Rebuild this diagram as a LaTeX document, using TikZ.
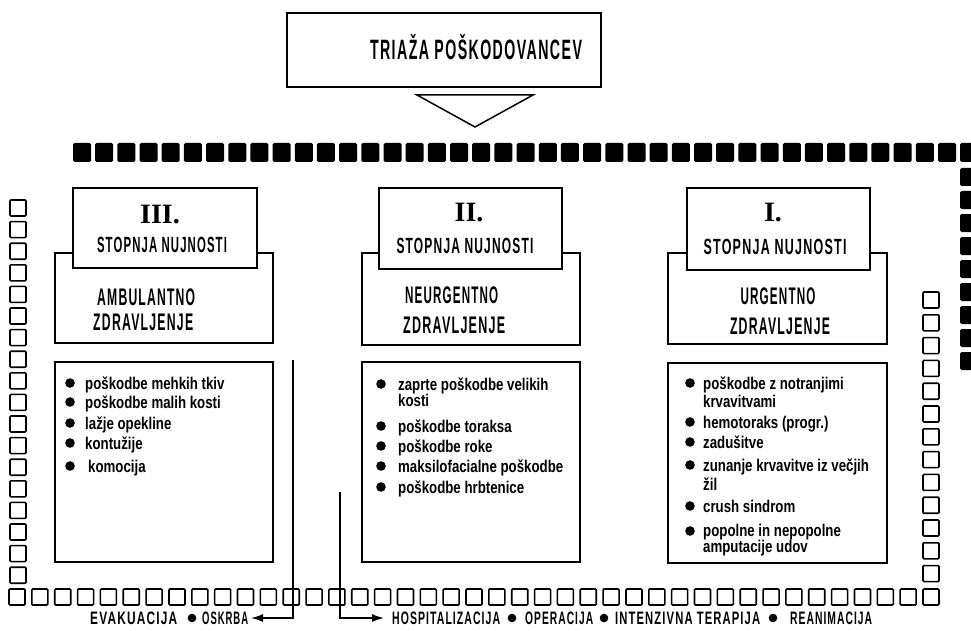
\documentclass[tikz,border=0pt]{standalone}
\usepackage{fontspec}
\usepackage{graphicx}
\setmainfont{Liberation Sans}
\newfontfamily\capf{Liberation Sans}[LetterSpace=10]
\newfontfamily\numf{Liberation Serif}
\newfontfamily\itemf{Liberation Sans}[FakeStretch=0.78]
\usetikzlibrary{arrows.meta}
\newcommand\capt[3]{\resizebox{#1pt}{\height}{\fontsize{#2}{#2}\selectfont\capf\bfseries #3}}
\newcommand\romn[2]{\fontsize{#1}{#1}\selectfont\numf\bfseries #2}
\newcommand\twol[3][0pt]{\def\arraystretch{0.8}\begin{tabular}[t]{@{}l@{}}#2\\[#1]#3\end{tabular}}
\tikzset{
  box/.style={draw, line width=1.6pt, fill=white, inner sep=0pt, outer sep=0pt},
  sqo/.style={draw, line width=1.6pt, rounded corners=1pt},
  sqf/.style={fill=black, rounded corners=1.5pt},
  lab/.style={inner sep=0pt, anchor=base},
  labw/.style={inner sep=0pt, anchor=base west},
  itm/.style={inner sep=0pt, anchor=base west, font=\itemf\bfseries\fontsize{17}{17}\selectfont},
  dot/.style={fill=black},
  conn/.style={line width=1.4pt},
}
\begin{document}
\begin{tikzpicture}[x=1pt, y=-1pt]
\useasboundingbox (0,0) rectangle (971,631);

% filled squares (top row and right column)
\foreach \i in {0,...,40} \fill[sqf] ({73+\i*22.18},143) rectangle ++(18,19);
\foreach \i in {0,...,8} \fill[sqf] (960,{168+\i*23}) rectangle ++(18,18);

% open squares
\foreach \i in {0,...,17} \draw[sqo] (10,{200+\i*21.6}) rectangle ++(16,16);
\foreach \i in {0,...,40} \draw[sqo] ({9+\i*22.85},589) rectangle ++(16,16);
\foreach \i in {0,...,12} \draw[sqo] (923,{292+\i*22.8}) rectangle ++(16,16);

% title box and triangle
\node[box, minimum width=314pt, minimum height=74pt] (title) at (444,50) {};
\node[lab] (titlet) at (476,60) {\capt{212}{28}{TRIAŽA POŠKODOVANCEV}};
\draw[line width=1.5pt, line join=miter] (417,95) -- (533,95) -- (475,127) -- cycle;

% column III
\node[box, minimum width=218pt, minimum height=90pt] (l3) at (164,298) {};
\node[box, minimum width=184pt, minimum height=80pt] (t3) at (165,228) {};
\node[box, minimum width=218pt, minimum height=200pt] (b3) at (164,462) {};
\node[lab] (n3) at (160,223) {\romn{28}{III.}};
\node[lab] (s3) at (162,252) {\capt{130}{22}{STOPNJA NUJNOSTI}};
\node[labw] (a3) at (97,305) {\capt{98}{24}{AMBULANTNO}};
\node[labw] (z3) at (93,330) {\capt{100}{24}{ZDRAVLJENJE}};

% column II
\node[box, minimum width=218pt, minimum height=92pt] (l2) at (471,299) {};
\node[box, minimum width=183pt, minimum height=81pt] (t2) at (470.5,228.5) {};
\node[box, minimum width=218pt, minimum height=200pt] (b2) at (471,462) {};
\node[lab] (n2) at (469,222) {\romn{28}{II.}};
\node[lab] (s2) at (465,253) {\capt{137}{22}{STOPNJA NUJNOSTI}};
\node[labw] (a2) at (405,303) {\capt{93}{24}{NEURGENTNO}};
\node[labw] (z2) at (403,333) {\capt{102}{24}{ZDRAVLJENJE}};

% column I
\node[box, minimum width=219pt, minimum height=91pt] (l1) at (777.5,298.5) {};
\node[box, minimum width=183pt, minimum height=82pt] (t1) at (778.5,229) {};
\node[box, minimum width=219pt, minimum height=200pt] (b1) at (777.5,463) {};
\node[lab] (n1) at (773,222) {\romn{28}{I.}};
\node[lab] (s1) at (775,254) {\capt{143}{22}{STOPNJA NUJNOSTI}};
\node[lab] (a1) at (778,304) {\capt{75}{24}{URGENTNO}};
\node[lab] (z1) at (780,334) {\capt{100}{24}{ZDRAVLJENJE}};

% items III
\foreach \y in {389,408,429,449,472} \fill[dot] (70,{\y-6}) circle (4.8);
\node[itm] (i31) at (85,389) {poškodbe mehkih tkiv};
\node[itm] (i32) at (85,408) {poškodbe malih kosti};
\node[itm] (i33) at (85,429) {lažje opekline};
\node[itm] (i34) at (85,449) {kontužije};
\node[itm] (i35) at (88,472) {komocija};

% items II
\foreach \y in {390,432,452,472,493} \fill[dot] (381,{\y-6}) circle (4.8);
\node[itm] (i21) at (398,390) {\twol{zaprte poškodbe velikih}{kosti}};
\node[itm] (i23) at (398,432) {poškodbe toraksa};
\node[itm] (i24) at (398,452) {poškodbe roke};
\node[itm] (i25) at (398,472) {maksilofacialne poškodbe};
\node[itm] (i26) at (398,493) {poškodbe hrbtenice};

% items I
\foreach \y in {389,428,448,471,512,537} \fill[dot] (690,{\y-6}) circle (4.8);
\node[itm] (i11) at (703,389) {\twol[2pt]{poškodbe z notranjimi}{krvavitvami}};
\node[itm] (i13) at (703,428) {hemotoraks (progr.)};
\node[itm] (i14) at (703,448) {zadušitve};
\node[itm] (i15) at (703,471) {\twol[3pt]{zunanje krvavitve iz večjih}{žil}};
\node[itm] (i17) at (703,512) {crush sindrom};
\node[itm] (i18) at (703,536) {\twol{popolne in nepopolne}{amputacije udov}};

% bottom labels
\node[labw] (e1) at (90,624) {\capt{87}{18}{EVAKUACIJA}};
\fill[dot] (192,618) circle (4.3);
\node[labw] (e2) at (202,624) {\capt{46}{18}{OSKRBA}};
\node[labw] (h1) at (392,624) {\capt{108}{18}{HOSPITALIZACIJA}};
\fill[dot] (512,618) circle (4.3);
\node[labw] (h2) at (525,624) {\capt{68}{18}{OPERACIJA}};
\fill[dot] (604,618) circle (4.3);
\node[labw] (h3) at (615,624) {\capt{145}{18}{INTENZIVNA TERAPIJA}};
\fill[dot] (773,618) circle (4.3);
\node[labw] (h4) at (790,624) {\capt{82}{18}{REANIMACIJA}};

% connectors
\coordinate (evs) at (293,360);
\coordinate (evt) at (251,618);
\coordinate (hss) at (340,492);
\coordinate (hst) at (384,618);
\draw[conn, -{Latex[length=12pt,width=8pt]}] (evs) |- (evt);
\draw[conn, -{Latex[length=12pt,width=8pt]}] (hss) |- (hst);
\end{tikzpicture}
\end{document}
